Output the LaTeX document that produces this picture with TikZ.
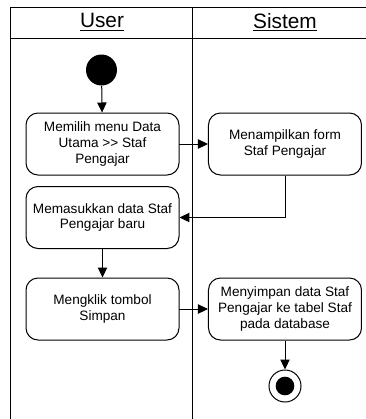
\documentclass[tikz,border=0pt]{standalone}
\usepackage{fontspec}
\setmainfont{Liberation Sans}
\usetikzlibrary{arrows.meta}

\begin{document}
\begin{tikzpicture}[x=0.75pt,y=-0.75pt,line width=0.75pt,
  >={Triangle[length=7.5pt,width=7pt]},
  activite/.style={draw,rounded corners=9pt,inner sep=0pt,align=center,
    minimum width=114.75pt,minimum height=46.5pt,
    font=\fontsize{10.2}{11.8}\selectfont},
  entete/.style={font=\fontsize{15.6}{18}\selectfont}]
\useasboundingbox (0,0) rectangle (366,419);

% les couloirs
\draw (11,419) -- (11,7) -- (366,7);
\draw (11,38) -- (366,38);
\draw (193,7) -- (193,419);
\node[entete] (user)   at (102,22) {\underline{User}};
\node[entete] (sistem) at (285,22) {\underline{Sistem}};

% les activites
\node[circle,fill,inner sep=0pt,minimum size=23.25pt] (debut) at (101.5,70) {};
\node[activite] (a1) at (102.5,144)   {Memilih menu Data\\Utama >{}> Staf\\Pengajar};
\node[activite] (a2) at (285,144)     {Menampilkan form\\Staf Pengajar};
\node[activite] (a3) at (102.5,217.5) {Memasukkan data Staf\\Pengajar baru};
\node[activite] (a4) at (102.5,309)   {Mengklik tombol\\Simpan};
\node[activite] (a5) at (285,309)     {Menyimpan data Staf\\Pengajar ke tabel Staf\\pada database};
\node[circle,draw,inner sep=0pt,minimum size=24pt] (fin) at (285,386) {};
\fill (fin.center) circle (7pt);

% les transitions
\draw[->] (debut) -- (a1);
\draw[->] (a1) -- (a2);
\draw[->] (a2.south) |- (a3.east);
\draw[->] (a3) -- (a4);
\draw[->] (a4) -- (a5);
\draw[->] (a5) -- (fin);

\end{tikzpicture}
\end{document}
